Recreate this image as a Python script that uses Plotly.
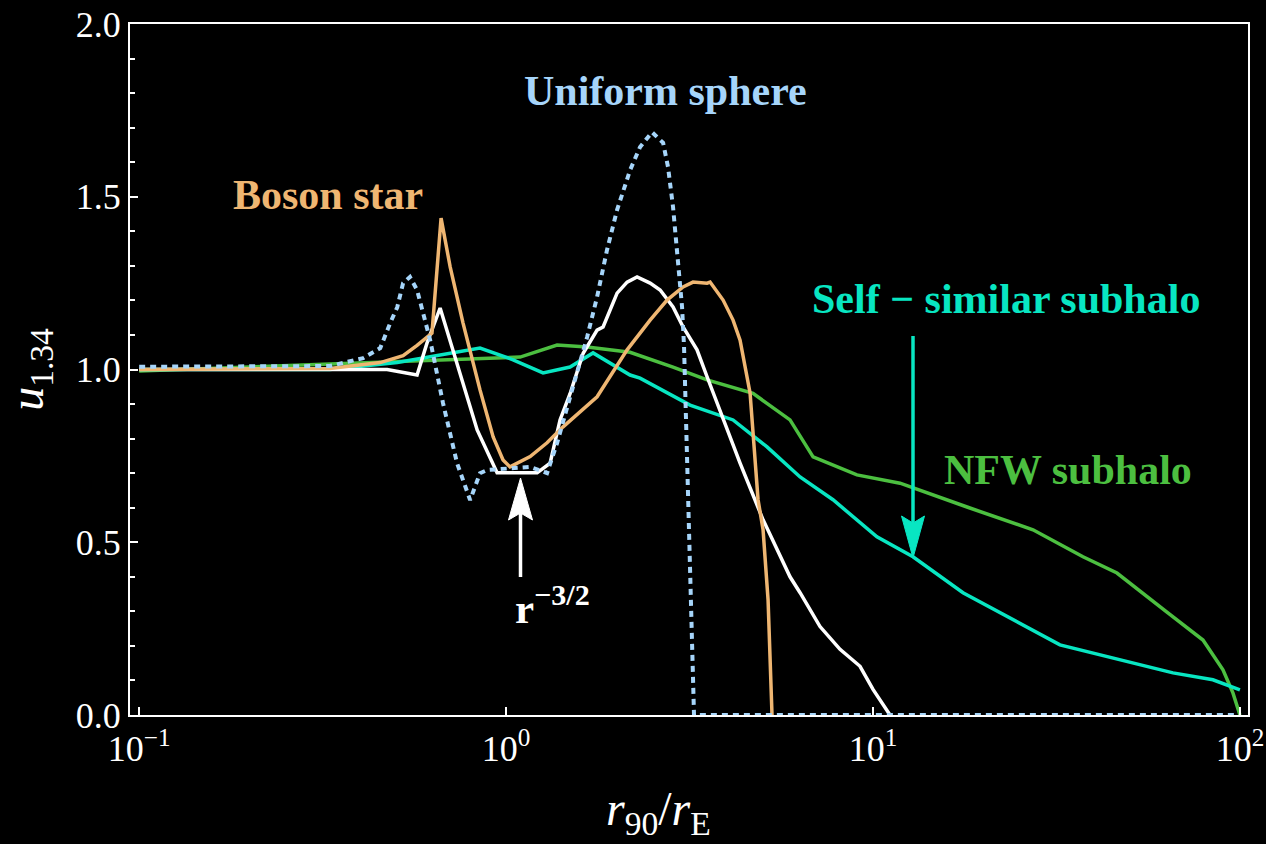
import plotly.graph_objects as go

# ---------------- data ----------------
uniform_x = [0.1, 0.331, 0.408, 0.454, 0.483, 0.505, 0.524, 0.547, 0.572, 0.621, 0.673, 0.735,
             0.798, 0.849, 0.888, 1.163, 1.293, 1.377, 1.494, 1.663, 1.770, 1.884, 2.007, 2.177,
             2.318, 2.499, 2.679, 2.763, 2.851, 2.943, 3.017, 3.055, 3.252, 100]
uniform_y = [1.008, 1.010, 1.033, 1.062, 1.134, 1.180, 1.250, 1.268, 1.230, 1.085, 0.903, 0.729,
             0.622, 0.700, 0.709, 0.718, 0.700, 0.787, 0.920, 1.094, 1.210, 1.346, 1.462, 1.577,
             1.644, 1.687, 1.656, 1.586, 1.470, 1.317, 1.181, 1.065, 0.0, 0.0]

boson_x = [0.1, 0.331, 0.454, 0.524, 0.572, 0.628, 0.665, 0.704, 0.763, 0.849, 0.922, 0.981,
           1.025, 1.163, 1.293, 1.430, 1.770, 2.137, 2.469, 2.746, 3.036, 3.232, 3.530, 3.597,
           3.903, 4.155, 4.342, 4.623, 4.861, 5.016, 5.176, 5.306]
boson_y = [1.0, 1.003, 1.020, 1.040, 1.070, 1.105, 1.438, 1.297, 1.135, 0.941, 0.805, 0.738,
           0.718, 0.748, 0.788, 0.834, 0.921, 1.057, 1.143, 1.201, 1.239, 1.253, 1.250, 1.253,
           1.201, 1.143, 1.085, 0.932, 0.623, 0.536, 0.333, 0.0]

white_x = [0.1, 0.474, 0.572, 0.609, 0.661, 0.735, 0.834, 0.945, 1.215, 1.318, 1.403, 1.494,
           1.622, 1.770, 1.838, 2.007, 2.137, 2.275, 2.469, 2.629, 2.851, 3.036, 3.314, 3.530,
           4.001, 4.342, 5.016, 5.940, 6.327, 7.171, 8.130, 9.218, 10.0, 11.125]
white_y = [1.0, 1.0, 0.984, 1.077, 1.178, 1.019, 0.825, 0.701, 0.701, 0.729, 0.854, 0.930,
           1.047, 1.114, 1.123, 1.221, 1.253, 1.268, 1.250, 1.230, 1.181, 1.123, 1.057, 0.979,
           0.825, 0.729, 0.565, 0.400, 0.354, 0.256, 0.190, 0.141, 0.074, 0.0]

selfsim_x = [0.1, 0.331, 0.505, 0.621, 0.849, 1.045, 1.261, 1.494, 1.726, 2.177, 2.318, 3.172,
             4.155, 5.143, 6.327, 7.78, 10.25, 12.85, 17.59, 32.32, 65.7, 84.4, 100]
selfsim_y = [1.0, 1.0, 1.020, 1.036, 1.062, 1.028, 0.990, 1.007, 1.048, 0.984, 0.975, 0.897,
             0.854, 0.776, 0.689, 0.623, 0.516, 0.458, 0.354, 0.203, 0.122, 0.102, 0.073]

nfw_x = [0.1, 0.621, 0.945, 1.092, 1.377, 1.663, 2.177, 2.851, 3.530, 4.71, 5.94, 6.865,
         9.04, 11.85, 18.04, 27.29, 37.35, 46.23, 63.25, 79.3, 89.9, 95.7, 100]
nfw_y = [0.996, 1.027, 1.033, 1.036, 1.071, 1.065, 1.050, 1.007, 0.970, 0.931, 0.854, 0.747,
         0.695, 0.671, 0.602, 0.536, 0.458, 0.411, 0.298, 0.217, 0.131, 0.064, 0.0]

x_tickvals = [0.1, 1, 10, 100]
x_ticktext = ["10<sup>−1</sup>", "10<sup>0</sup>", "10<sup>1</sup>", "10<sup>2</sup>"]
y_tickvals = [0.0, 0.5, 1.0, 1.5, 2.0]
y_ticktext = ["0.0", "0.5", "1.0", "1.5", "2.0"]

# ---------------- styles ----------------
C_BLUE = "#a6d5fa"
C_ORANGE = "#efb672"
C_WHITE = "#ffffff"
C_CYAN = "#08e6c2"
C_GREEN = "#4cbf40"
FONT = "Liberation Serif"

W, H = 1266, 844
ML, MR, MT, MB = 130, 18, 24, 129


def px(xp):
    """page pixel x -> paper fraction"""
    return (xp - ML) / (W - ML - MR)


def py(yp):
    """page pixel y -> paper fraction"""
    return (H - MB - yp) / (H - MT - MB)


fig = go.Figure()
fig.add_trace(go.Scatter(x=nfw_x, y=nfw_y, mode="lines", name="NFW subhalo",
                         line=dict(color=C_GREEN, width=3.5)))
fig.add_trace(go.Scatter(x=selfsim_x, y=selfsim_y, mode="lines", name="Self-similar subhalo",
                         line=dict(color=C_CYAN, width=3.5)))
fig.add_trace(go.Scatter(x=white_x, y=white_y, mode="lines", name="r^-3/2",
                         line=dict(color=C_WHITE, width=3.5)))
fig.add_trace(go.Scatter(x=boson_x, y=boson_y, mode="lines", name="Boson star",
                         line=dict(color=C_ORANGE, width=3.5)))
fig.add_trace(go.Scatter(x=uniform_x, y=uniform_y, mode="lines", name="Uniform sphere",
                         line=dict(color=C_BLUE, width=4, dash="6px,5px")))

labels = [
    ("<b>Uniform sphere</b>", C_BLUE, 665, 91, 42),
    ("<b>Boson star</b>", C_ORANGE, 328, 195, 42),
    ("<b>Self − similar subhalo</b>", C_CYAN, 1006, 299, 42),
    ("<b>NFW subhalo</b>", C_GREEN, 1068, 470, 42),
    ("<b>r<sup>−3/2</sup></b>", C_WHITE, 552, 605, 43),
]
for text, col, xx, yy, fs in labels:
    fig.add_annotation(text=text, xref="paper", yref="paper", x=px(xx), y=py(yy),
                       xanchor="center", yanchor="middle", showarrow=False,
                       font=dict(family=FONT, size=fs, color=col))

# x-axis title (placed as text below the axis, as in the reference)
fig.add_annotation(text="<i>r</i><sub>90</sub>/<i>r</i><sub>E</sub>", xref="paper", yref="paper",
                   x=px(658), y=py(812), xanchor="center", yanchor="middle", showarrow=False,
                   font=dict(family=FONT, size=48, color="white"))

# arrows (shaft + head)
shapes = []


def arrow(xc, y_tail, y_tip, y_base, y_notch, half_w, col):
    shapes.append(dict(type="line", xref="paper", yref="paper",
                       x0=px(xc), x1=px(xc), y0=py(y_tail), y1=py(y_notch),
                       line=dict(color=col, width=3.5)))
    path = "M {a},{b} L {c},{d} L {e},{f} L {g},{h} Z".format(
        a=px(xc), b=py(y_tip), c=px(xc - half_w), d=py(y_base),
        e=px(xc), f=py(y_notch), g=px(xc + half_w), h=py(y_base))
    shapes.append(dict(type="path", xref="paper", yref="paper", path=path,
                       fillcolor=col, line=dict(color=col, width=1)))


arrow(520.5, 577, 478, 520, 513, 12, C_WHITE)
arrow(913, 336, 558, 516, 523, 11.5, C_CYAN)

axis_common = dict(showgrid=False, zeroline=False, showline=True, linecolor="white",
                   linewidth=2, mirror=True, ticks="inside", tickcolor="white",
                   tickwidth=2, ticklen=8, automargin=False, ticklabeloverflow="allow",
                   tickfont=dict(family=FONT, size=36, color="white"))

fig.update_layout(
    width=W, height=H,
    margin=dict(l=ML, r=MR, t=MT, b=MB),
    paper_bgcolor="black", plot_bgcolor="black",
    showlegend=False,
    shapes=shapes,
    xaxis=dict(type="log", range=[-1.025, 2.022], tickvals=x_tickvals, ticktext=x_ticktext,
               ticklabelstandoff=1, **axis_common),
    yaxis=dict(range=[0, 2], tickvals=y_tickvals, ticktext=y_ticktext,
               ticklabelstandoff=0,
               minor=dict(ticks="inside", dtick=0.1, ticklen=5, tickwidth=2,
                          tickcolor="white", showgrid=False),
               title=dict(text="<i>u</i><sub>1.34</sub>",
                          font=dict(family=FONT, size=48, color="white"), standoff=44),
               **axis_common),
)

fig.write_html(
    "out.html",
    config={"displayModeBar": False},
    post_script="document.body.style.margin='0';document.body.style.background='black';",
)
